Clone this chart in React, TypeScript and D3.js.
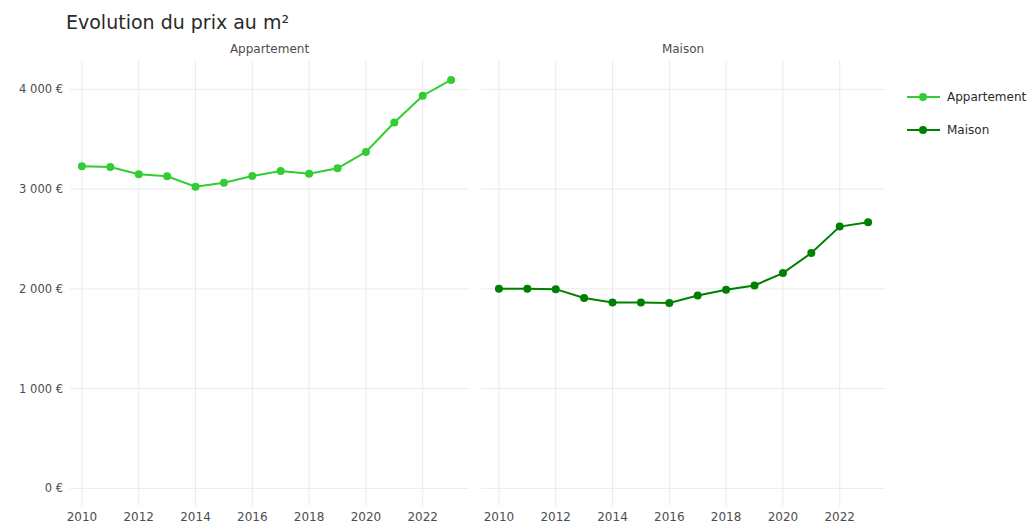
import React from "react";
import * as d3 from "d3";

const years = [2010, 2011, 2012, 2013, 2014, 2015, 2016, 2017, 2018, 2019, 2020, 2021, 2022, 2023];
const appartement = [3228, 3221, 3148, 3128, 3024, 3064, 3131, 3181, 3154, 3208, 3372, 3668, 3936, 4094];
const maison = [2000, 2000, 1997, 1909, 1862, 1862, 1859, 1933, 1990, 2034, 2158, 2359, 2624, 2668];
const yTicks = [0, 1000, 2000, 3000, 4000];
const xTicks = [2010, 2012, 2014, 2016, 2018, 2020, 2022];
const seriesNames = ["Appartement", "Maison"];
const colors = ["#32cd32", "#008000"];

const W = 1033;
const H = 523;
const top = 60;
const bottom = 506;
const panels = [
  { x0: 70, x1: 469, r0: 70, r1: 469 },
  { x0: 481, x1: 885, r0: 487, r1: 886 },
];

const fmt = (v: number) => d3.format(",")(v).replace(/,/g, " ") + " €";

export default function App() {
  const y = d3.scaleLinear().domain([-177, 4294]).range([bottom, top]);
  const data = [appartement, maison];
  const font = "'DejaVu Sans', sans-serif";
  return (
    <svg width={W} height={H} style={{ position: "absolute", left: 0, top: 0 }} fontFamily={font}>
      <rect width={W} height={H} fill="#fff" />
      <text x={66} y={29} fontSize={19} fill="#2a2a2a">Evolution du prix au m²</text>
      {panels.map((p, i) => {
        const x = d3.scaleLinear().domain([2009.58, 2023.63]).range([p.r0, p.r1]);
        const line = d3
          .line<number>()
          .x((_, j) => x(years[j]))
          .y((d) => y(d));
        return (
          <g key={i}>
            {yTicks.map((t) => (
              <line key={t} x1={p.x0} x2={p.x1} y1={y(t)} y2={y(t)} stroke="#ebebeb" strokeWidth={1} />
            ))}
            {xTicks.map((t) => (
              <line key={t} x1={x(t)} x2={x(t)} y1={top} y2={bottom} stroke="#ebebeb" strokeWidth={1} />
            ))}
            {xTicks.map((t) => (
              <text key={t} x={x(t)} y={521} fontSize={12} fill="#4d4d4d" textAnchor="middle">{t}</text>
            ))}
            <text x={(p.x0 + p.x1) / 2} y={53} fontSize={12} fill="#4d4d4d" textAnchor="middle">{seriesNames[i]}</text>
            <path d={line(data[i]) || ""} fill="none" stroke={colors[i]} strokeWidth={2} />
            {data[i].map((v, j) => (
              <circle key={j} cx={x(years[j])} cy={y(v)} r={4} fill={colors[i]} />
            ))}
          </g>
        );
      })}
      {yTicks.map((t) => (
        <text key={t} x={63} y={y(t) + 4} fontSize={11.5} fill="#4d4d4d" textAnchor="end">{fmt(t)}</text>
      ))}
      {seriesNames.map((s, i) => (
        <g key={s} transform={`translate(0, ${97 + i * 33})`}>
          <line x1={907} x2={940} y1={0} y2={0} stroke={colors[i]} strokeWidth={2} />
          <circle cx={923} cy={0} r={4} fill={colors[i]} />
          <text x={947} y={4} fontSize={12} fill="#2a2a2a">{s}</text>
        </g>
      ))}
    </svg>
  );
}
